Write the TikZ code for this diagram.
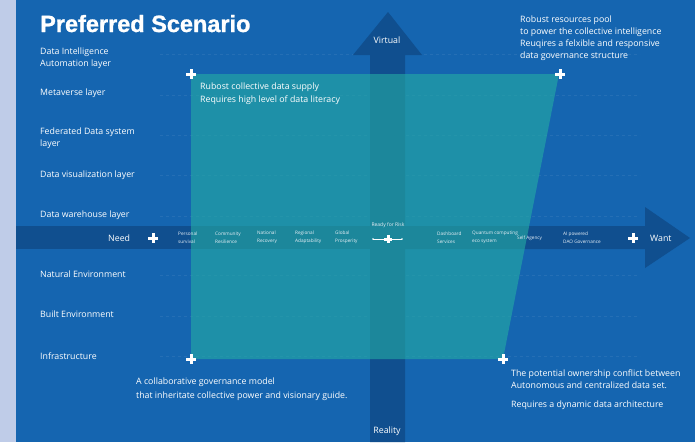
\documentclass[tikz,border=0pt]{standalone}
\usepackage{fontspec}
\setmainfont{Open Sans}
\newfontfamily\titlefont{Liberation Sans}[BoldFeatures={FakeBold=1.2}]
\definecolor{bgblue}{HTML}{1565B0}
\definecolor{strip}{HTML}{BFCCE8}
\definecolor{darkarrow}{HTML}{104F8F}
\definecolor{tealfill}{HTML}{24ADA3}
\begin{document}
\begin{tikzpicture}[x=1pt,y=-1pt,
  lbl/.style={text=white, font=\fontsize{8.8}{12}\selectfont, inner sep=0, anchor=west, align=left},
  tiny/.style={text=white!90!bgblue, font=\fontsize{4.7}{8}\selectfont, inner sep=0, anchor=west, align=left},
  plusmark/.style={minimum size=10pt, inner sep=0, outer sep=0,
    path picture={\draw[white, line width=3pt] (path picture bounding box.north) -- (path picture bounding box.south) (path picture bounding box.west) -- (path picture bounding box.east);}},
  smallplus/.style={plusmark, minimum size=8.5pt},
  gridline/.style={white, opacity=0.07, dashed, line width=0.6pt}
]
% background
\useasboundingbox (0,0) rectangle (695,442);
\fill[bgblue] (0,0) rectangle (695,442);
\fill[strip] (0,0) rectangle (16,442);
% faint grid lines
\foreach \yy in {54,95,135,175,216,275,316,356}
  \draw[gridline] (160,\yy) -- (640,\yy);
% arrows (union)
\fill[darkarrow] (370,442) -- (370,55) -- (353,55) -- (388,12) -- (422,55) -- (405,55) -- (405,226)
  -- (645,226) -- (645,207) -- (690,238) -- (645,268) -- (645,249) -- (405,249) -- (405,442) -- cycle;
\fill[darkarrow] (16,226) rectangle (370,249);
% teal overlay
\fill[tealfill, opacity=0.6] (191,74) -- (559,74) -- (503,359) -- (191,359) -- cycle;
% title
\node[anchor=base west, inner sep=0, text=white, font=\titlefont\bfseries\fontsize{23.5}{28}\selectfont] (title) at (40,32) {Preferred Scenario};
% left labels
\node[lbl] (l1) at (40,58) {Data Intelligence\\Automation layer};
\node[lbl] (l2) at (40,93) {Metaverse layer};
\node[lbl] (l3) at (40,138) {Federated Data system\\layer};
\node[lbl] (l4) at (40,175) {Data visualization layer};
\node[lbl] (l5) at (40,215) {Data warehouse layer};
\node[lbl] (l6) at (40,274) {Natural Environment};
\node[lbl] (l7) at (40,314) {Built Environment};
\node[lbl] (l8) at (40,356) {Infrastructure};
% axis labels
\node[lbl, anchor=center] (virtual) at (387,40) {Virtual};
\node[lbl, anchor=center] (reality) at (387,431) {Reality};
\node[lbl] (need) at (108,238) {Need};
\node[lbl] (want) at (650,238) {Want};
% quadrant texts
\node[lbl, font=\fontsize{8.8}{13}\selectfont] (q1) at (200,93.5) {Rubost collective data supply\\Requires high level of data literacy};
\node[lbl] (q2) at (520,38) {Robust resources pool\\to power the collective intelligence\\Reuqires a felxible and responsive\\data governance structure};
\node[lbl, font=\fontsize{8.8}{14}\selectfont] (q3) at (136,389) {A collaborative governance model\\that inheritate collective power and visionary guide.};
\node[lbl] (q4) at (511,379) {The potential ownership conflict between\\Autonomous and centralized data set.};
\node[lbl] (q4b) at (511,405) {Requires a dynamic data architecture};
% horizontal axis labels
\node[tiny] (h1) at (178,237.5) {Personal\\survival};
\node[tiny] (h2) at (215,237.5) {Community\\Resilience};
\node[tiny] (h3) at (257,237.5) {National\\Recovery};
\node[tiny] (h4) at (295,237.5) {Regional\\Adaptability};
\node[tiny] (h5) at (335,237.5) {Global\\Prosperity};
\node[tiny, anchor=center, font=\fontsize{5}{8}\selectfont] (risk) at (388,225) {Ready for Risk};
\node[tiny] (h6) at (437,237.5) {Dashboard\\Services};
\node[tiny] (h7) at (472,237.5) {Quantum computing\\eco system};
\node[tiny] (h8) at (517,238) {Self Agency};
\node[tiny] (h9) at (563,237.5) {AI powered\\DAO Governance};
% ready for risk marker
\coordinate (rl) at (373,239);
\coordinate (rr) at (402,239);
\node[smallplus] (prisk) at (388,239) {};
\draw[white, line width=0.6pt] (rl) -- (prisk) -- (rr);
\fill[white] (rl) circle (0.9) (rr) circle (0.9);
% plus markers
\node[plusmark] (pneed) at (153,238) {};
\node[plusmark] (pwant) at (633,238) {};
\node[plusmark] (ptl) at (191,74) {};
\node[plusmark] (ptr) at (560,74) {};
\node[plusmark] (pbl) at (191,359) {};
\node[plusmark] (pbr) at (503,359) {};
\end{tikzpicture}
\end{document}
